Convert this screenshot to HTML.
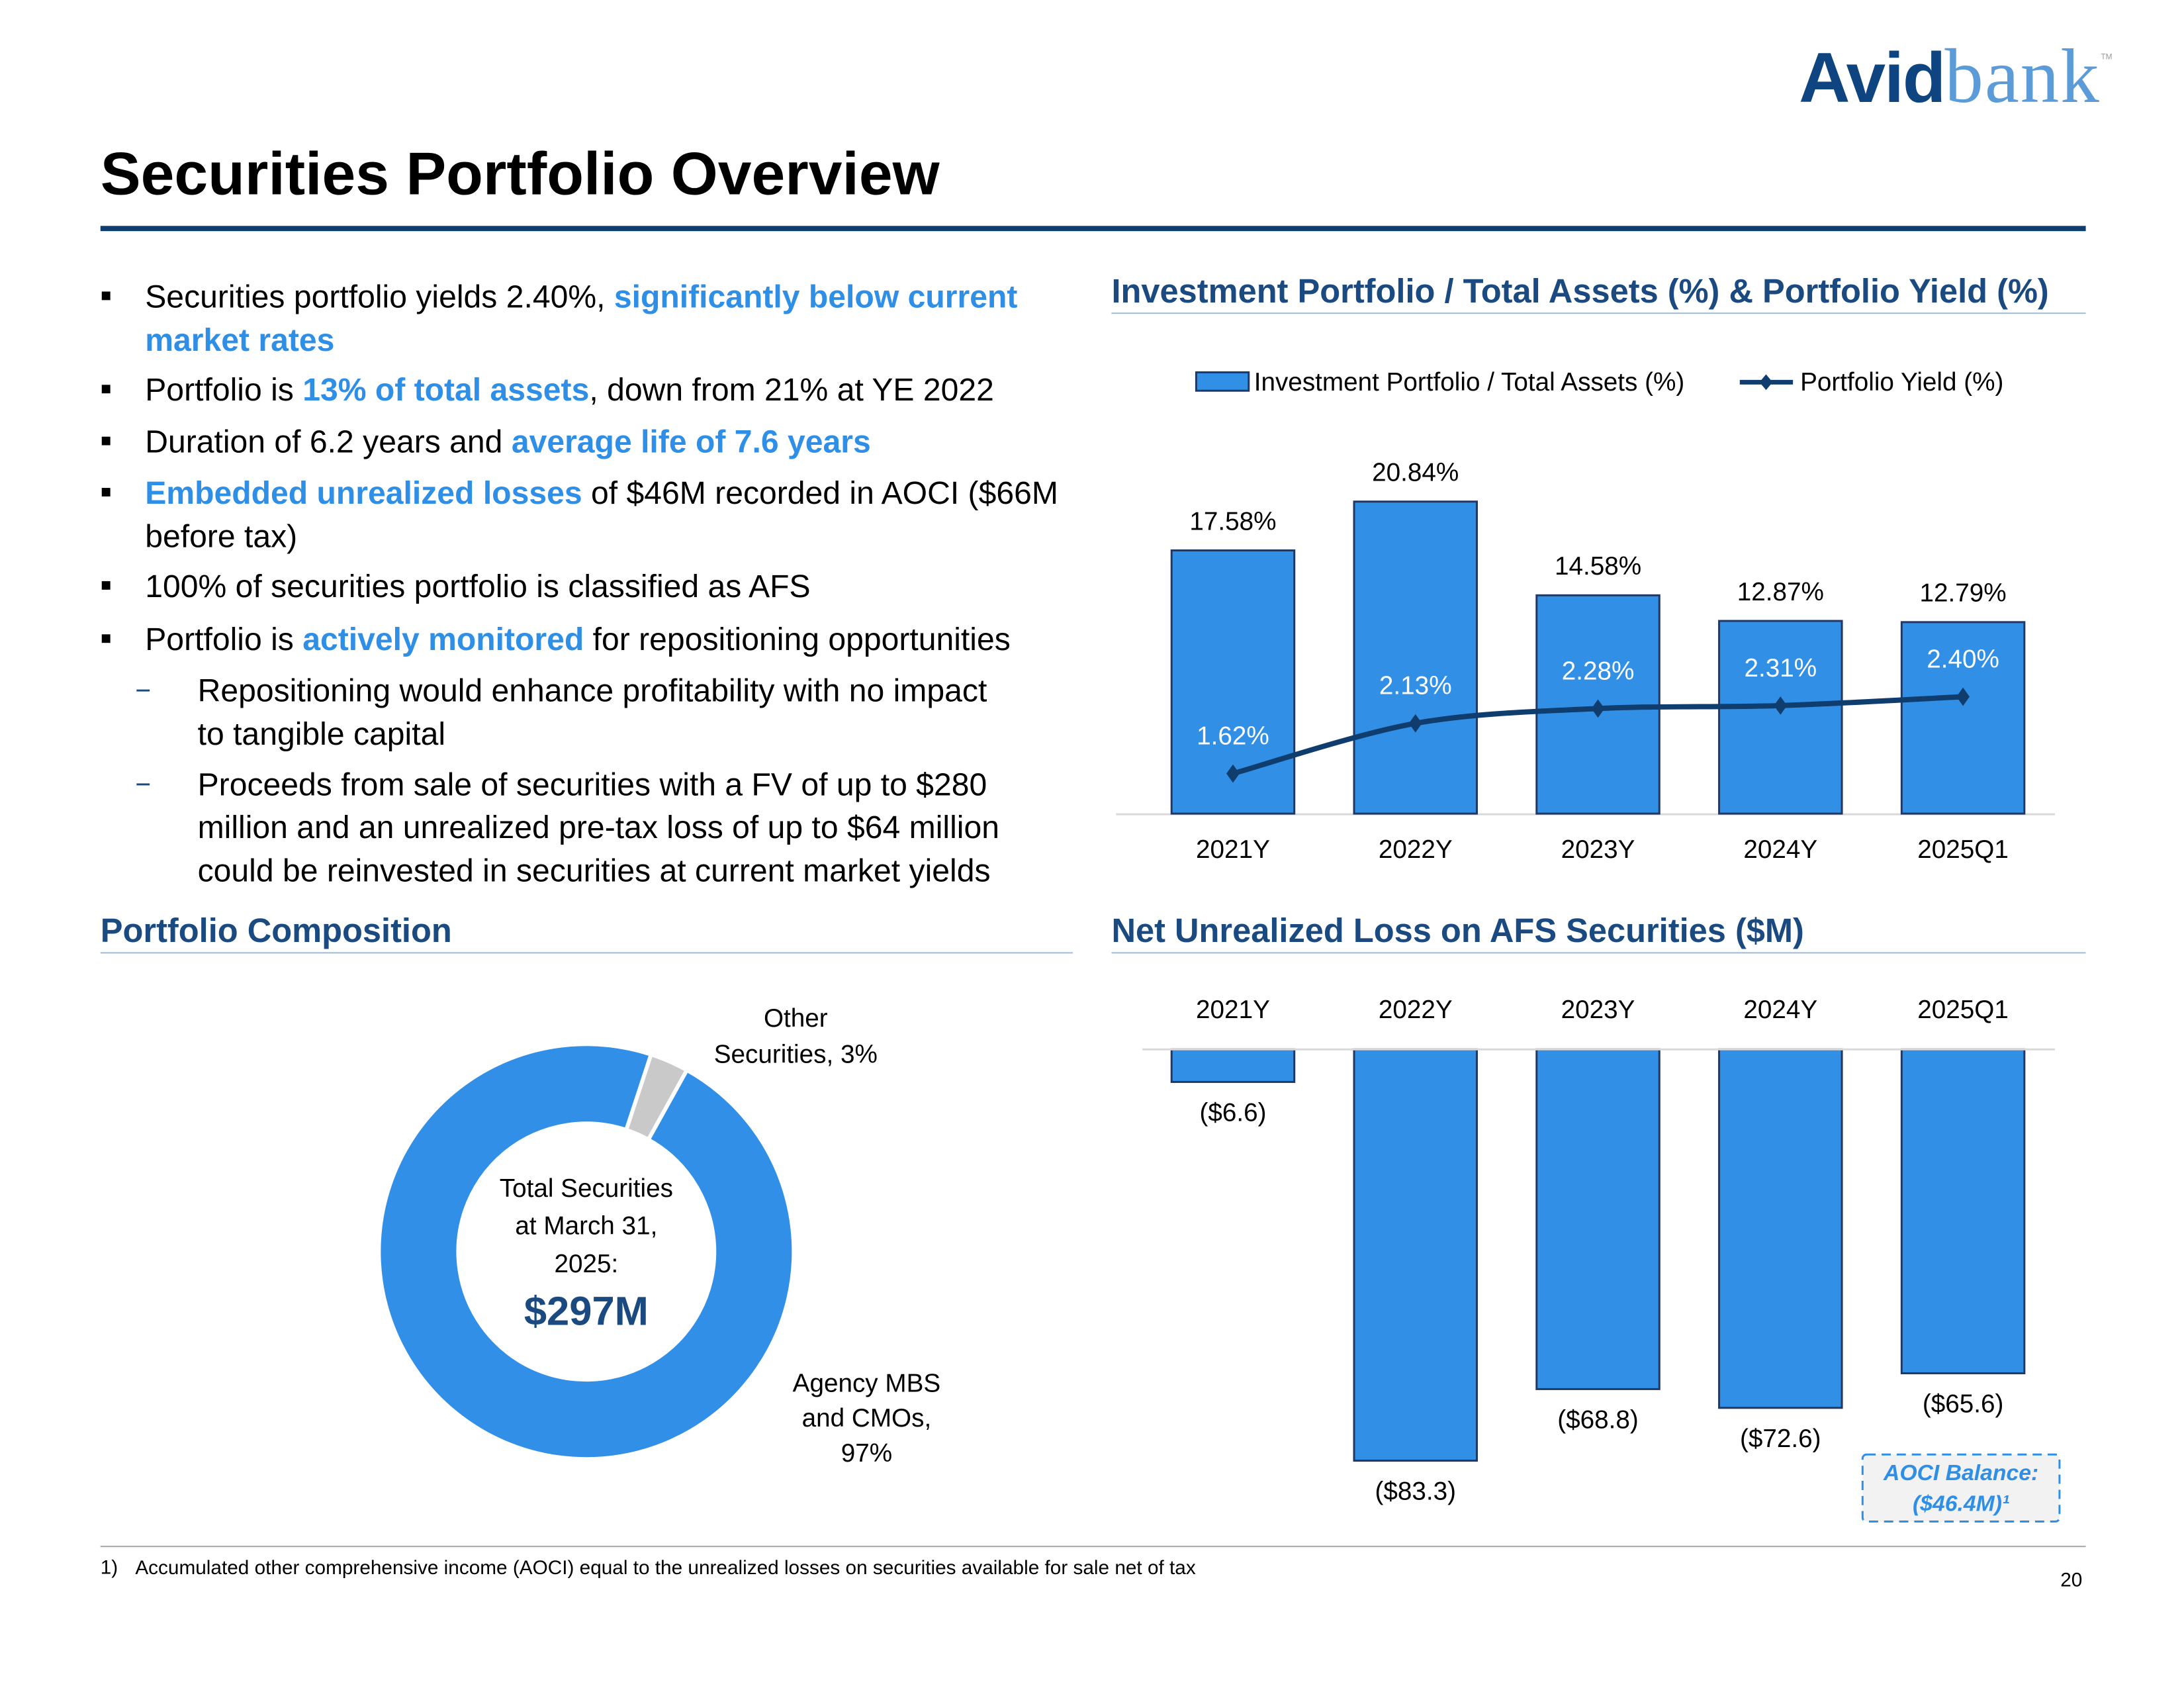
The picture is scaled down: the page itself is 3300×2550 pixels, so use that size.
<!DOCTYPE html>
<html><head><meta charset="utf-8"><style>
html,body{margin:0;padding:0;background:#fff;}
svg{display:block;font-family:"Liberation Sans",sans-serif;}
.b{fill:#000;font-size:48.5px;}
.h{fill:#2f8fe6;font-weight:bold;}
.sec{fill:#1b4a80;font-weight:bold;font-size:51px;}
.lbl{font-size:39px;fill:#000;}
</style></head><body>
<svg id="page" width="3300" height="2550" viewBox="0 0 3300 2550">
<g transform="scale(0.992)">
<g>
<text x="2740" y="155" font-size="108" font-weight="bold" fill="#0e4580" letter-spacing="-2">Avid<tspan font-family="Liberation Serif,serif" font-weight="normal" fill="#5b9bd8" font-size="118" letter-spacing="2">bank</tspan></text>
<text x="3200" y="90" font-size="12" fill="#999">TM</text>
</g>
<text x="153" y="296" font-size="92" font-weight="bold" fill="#000">Securities Portfolio Overview</text>
<rect x="153" y="344" width="3024" height="8" fill="#0f3d6e"/>

<g dominant-baseline="central">
<rect x="155" y="444" width="13" height="13" fill="#000"/>
<text class="b" x="221" y="452">Securities portfolio yields 2.40%, <tspan class="h">significantly below current</tspan></text>
<text class="b h" x="221" y="518">market rates</text>
<rect x="155" y="586" width="13" height="13" fill="#000"/>
<text class="b" x="221" y="594">Portfolio is <tspan class="h">13% of total assets</tspan>, down from 21% at YE 2022</text>
<rect x="155" y="665" width="13" height="13" fill="#000"/>
<text class="b" x="221" y="673">Duration of 6.2 years and <tspan class="h">average life of 7.6 years</tspan></text>
<rect x="155" y="743" width="13" height="13" fill="#000"/>
<text class="b" x="221" y="751"><tspan class="h">Embedded unrealized losses</tspan> of $46M recorded in AOCI ($66M</text>
<text class="b" x="221" y="817">before tax)</text>
<rect x="155" y="885" width="13" height="13" fill="#000"/>
<text class="b" x="221" y="893">100% of securities portfolio is classified as AFS</text>
<rect x="155" y="966" width="13" height="13" fill="#000"/>
<text class="b" x="221" y="974">Portfolio is <tspan class="h">actively monitored</tspan> for repositioning opportunities</text>
<rect x="208" y="1050" width="20" height="3" fill="#1b4a80"/>
<text class="b" x="301" y="1052">Repositioning would enhance profitability with no impact</text>
<text class="b" x="301" y="1118">to tangible capital</text>
<rect x="208" y="1193" width="20" height="3" fill="#1b4a80"/>
<text class="b" x="301" y="1195">Proceeds from sale of securities with a FV of up to $280</text>
<text class="b" x="301" y="1260">million and an unrealized pre-tax loss of up to $64 million</text>
<text class="b" x="301" y="1326">could be reinvested in securities at current market yields</text>
</g>

<g dominant-baseline="central">
<text class="sec" x="1693" y="443">Investment Portfolio / Total Assets (%) &amp; Portfolio Yield (%)</text>
<rect x="1693" y="476" width="1484" height="2" fill="#9dbbd9"/>
<text class="sec" x="153" y="1417">Portfolio Composition</text>
<rect x="153" y="1450" width="1481" height="2" fill="#9dbbd9"/>
<text class="sec" x="1693" y="1417">Net Unrealized Loss on AFS Securities ($M)</text>
<rect x="1693" y="1450" width="1484" height="2" fill="#9dbbd9"/>

<g>
<rect x="1822" y="567" width="80" height="28" fill="#318fe6" stroke="#1f3864" stroke-width="3"/>
<text class="lbl" x="1910" y="582" font-size="42">Investment Portfolio / Total Assets (%)</text>
<line x1="2650" y1="582" x2="2731" y2="582" stroke="#0f3d6e" stroke-width="7"/>
<path d="M2690 570 L2700 582 L2690 594 L2680 582Z" fill="#0f3d6e"/>
<text class="lbl" x="2742" y="582" font-size="42">Portfolio Yield (%)</text>
</g>
<g id="chart1"></g>
<g id="chart2"></g>

<g>
<rect x="2837" y="2215" width="300" height="102" rx="6" fill="#f2f2f2" stroke="#2f8fe6" stroke-width="3" stroke-dasharray="14,9"/>
<text x="2987" y="2243" text-anchor="middle" font-size="34" font-style="italic" font-weight="bold" fill="#2f8fe6">AOCI Balance:</text>
<text x="2987" y="2290" text-anchor="middle" font-size="34" font-style="italic" font-weight="bold" fill="#2f8fe6">($46.4M)¹</text>
</g>

<g id="donut"></g>
<g text-anchor="middle">
<text class="lbl" x="893" y="1810" font-size="46">Total Securities</text>
<text class="lbl" x="893" y="1867" font-size="46">at March 31,</text>
<text class="lbl" x="893" y="1925" font-size="46">2025:</text>
<text x="893" y="1997" font-size="62" font-weight="bold" fill="#1b4a80">$297M</text>
</g>
<g text-anchor="middle">
<text class="lbl" x="1212" y="1551">Other</text>
<text class="lbl" x="1212" y="1606">Securities, 3%</text>
<text class="lbl" x="1320" y="2107">Agency MBS</text>
<text class="lbl" x="1320" y="2160">and CMOs,</text>
<text class="lbl" x="1320" y="2213">97%</text>
</g>

<rect x="153" y="2354" width="3024" height="2" fill="#a6a6a6"/>
<text x="153" y="2387" font-size="30" fill="#000">1)<tspan x="206">Accumulated other comprehensive income (AOCI) equal to the unrealized losses on securities available for sale net of tax</tspan></text>
<text x="3155" y="2406" font-size="30" text-anchor="middle" fill="#000">20</text>
</g>
</g>
</svg>
<script>
const categories = ["2021Y","2022Y","2023Y","2024Y","2025Q1"];
const ratioValues = [17.58, 20.84, 14.58, 12.87, 12.79];
const yieldValues = [1.62, 2.13, 2.28, 2.31, 2.40];
const lossValues = [-6.6, -83.3, -68.8, -72.6, -65.6];
const compLabels = ["Agency MBS and CMOs","Other Securities"];
const compValues = [97, 3];

const NS = "http://www.w3.org/2000/svg";
function mk(parent, tag, attrs, txt){const e=document.createElementNS(NS,tag);for(const k in attrs)e.setAttribute(k,attrs[k]);if(txt!==undefined)e.textContent=txt;parent.appendChild(e);return e;}
const xC = i => 1878 + i*278;
const barW = 187;
const yBar = v => 1239 - v*22.8;
const yYield = v => 1421 - v*150;
const FS = 39;

const c1 = document.getElementById('chart1');
mk(c1,'line',{x1:1700,y1:1240,x2:3130,y2:1240,stroke:'#d9d9d9','stroke-width':3});
categories.forEach((c,i)=>{
  const r = mk(c1,'rect',{x:xC(i)-barW/2,y:yBar(ratioValues[i]),width:barW,height:1239-yBar(ratioValues[i]),fill:'#318fe6',stroke:'#1f3864','stroke-width':3});
  
  
  mk(c1,'text',{x:xC(i),y:yBar(ratioValues[i])-44,'text-anchor':'middle','dominant-baseline':'central','font-size':FS,fill:'#000'},ratioValues[i].toFixed(2)+'%');
  mk(c1,'text',{x:xC(i),y:1294,'text-anchor':'middle','dominant-baseline':'central','font-size':FS,fill:'#000'},c);
});
let pts = yieldValues.map((v,i)=>[xC(i),yYield(v)]);
let d = 'M'+pts[0][0]+' '+pts[0][1];
for(let i=0;i<pts.length-1;i++){
  const p0=pts[Math.max(0,i-1)],p1=pts[i],p2=pts[i+1],p3=pts[Math.min(pts.length-1,i+2)];
  const t=0.16;
  d+=` C${p1[0]+(p2[0]-p0[0])*t} ${p1[1]+(p2[1]-p0[1])*t} ${p2[0]-(p3[0]-p1[0])*t} ${p2[1]-(p3[1]-p1[1])*t} ${p2[0]} ${p2[1]}`;
}
const yl = mk(c1,'path',{d:d,fill:'none',stroke:'#0f3d6e','stroke-width':8});


pts.forEach((p,i)=>{
  const m = mk(c1,'path',{d:`M${p[0]} ${p[1]-14} L${p[0]+10} ${p[1]} L${p[0]} ${p[1]+14} L${p[0]-10} ${p[1]}Z`,fill:'#0f3d6e'});
  
  
  mk(c1,'text',{x:p[0],y:p[1]-57,'text-anchor':'middle','dominant-baseline':'central','font-size':FS,fill:'#fff'},yieldValues[i].toFixed(2)+'%');
});

const c2 = document.getElementById('chart2');
categories.forEach((c,i)=>{
  mk(c2,'text',{x:xC(i),y:1538,'text-anchor':'middle','dominant-baseline':'central','font-size':FS,fill:'#000'},c);
});
categories.forEach((c,i)=>{
  const h = Math.abs(lossValues[i])*7.52;
  const r = mk(c2,'rect',{x:xC(i)-barW/2,y:1598,width:barW,height:h,fill:'#318fe6',stroke:'#1f3864','stroke-width':3});
  
  
  mk(c2,'text',{x:xC(i),y:1598+h+47,'text-anchor':'middle','dominant-baseline':'central','font-size':FS,fill:'#000'},'($'+Math.abs(lossValues[i]).toFixed(1)+')');
});
mk(c2,'line',{x1:1740,y1:1598,x2:3130,y2:1598,stroke:'#d9d9d9','stroke-width':3});

const dn = document.getElementById('donut');
const cx=893, cy=1906, R=316, r0=195;
const total = compValues.reduce((a,b)=>a+b,0);
let a = 29;
const colors=['#318fe8','#c9c9c9'];
compValues.forEach((v,i)=>{
  const sweep = 360*v/total;
  const a0=a*Math.PI/180, a1=(a+sweep)*Math.PI/180;
  const P=(ang,rad)=>[cx+rad*Math.sin(ang), cy-rad*Math.cos(ang)];
  const [x0,y0]=P(a0,R),[x1,y1]=P(a1,R),[x2,y2]=P(a1,r0),[x3,y3]=P(a0,r0);
  const lg = sweep>180?1:0;
  const s = mk(dn,'path',{d:`M${x0} ${y0} A${R} ${R} 0 ${lg} 1 ${x1} ${y1} L${x2} ${y2} A${r0} ${r0} 0 ${lg} 0 ${x3} ${y3}Z`,fill:colors[i],stroke:'#fff','stroke-width':6});
  
  
  a += sweep;
});
</script>
</body></html>
